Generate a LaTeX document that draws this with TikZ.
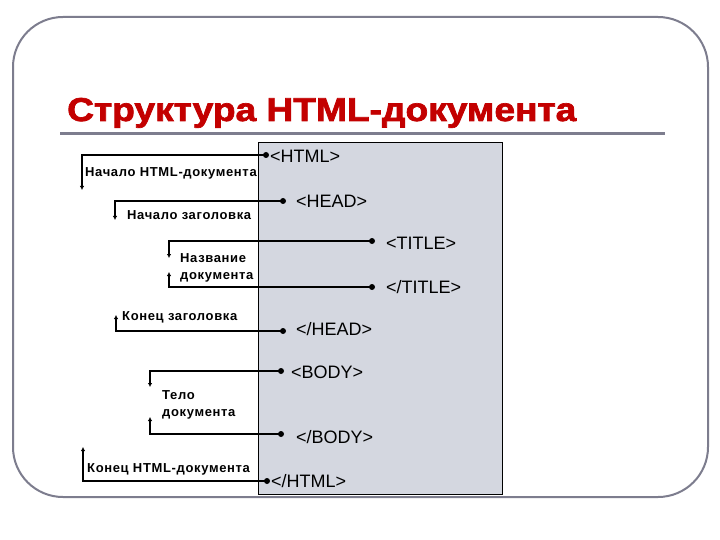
\documentclass[tikz,border=0pt]{standalone}
\usepackage{fontspec}
\setmainfont{Liberation Sans}
\usetikzlibrary{arrows.meta}
\definecolor{titlered}{RGB}{195,0,0}
\definecolor{framegray}{RGB}{125,125,142}
\definecolor{boxfill}{RGB}{212,215,224}
\begin{document}
\begin{tikzpicture}[x=1pt,y=-1pt,
 tag/.style={anchor=west,inner sep=0pt,font=\fontsize{18}{20}\selectfont},
 lbl/.style={anchor=west,inner sep=0pt,font=\bfseries\fontsize{13}{17}\selectfont\addfontfeature{LetterSpace=5},align=left},
 dot/.style={circle,fill=black,inner sep=0pt,minimum size=6pt},
 conn/.style={line width=1.5pt,-{Latex[length=4pt,width=4.5pt]}}
]
\useasboundingbox (0,0) rectangle (720,540);
\fill[white] (0,0) rectangle (720,540);
\draw[framegray,line width=2pt,rounded corners=50pt] (13,17) rectangle (708,497);
\node[anchor=base west,text=titlered,font=\bfseries\fontsize{33}{40}\selectfont\addfontfeature{FakeBold=2},inner sep=0pt,xscale=1.125] (title) at (67,121) {Структура HTML-документа};
\draw[framegray,line width=3pt] (60,134) -- (665,134);
\node[draw,fill=boxfill,line width=0.8pt,minimum width=244pt,minimum height=352pt,anchor=north west,inner sep=0pt] (docbox) at (258,142) {};
% dots and tags
\node[dot] (d1) at (266,155) {}; \node[tag] (t1) at (270,156) {<HTML>};
\node[dot] (d2) at (283,201) {}; \node[tag] (t2) at (296,201) {<HEAD>};
\node[dot] (d3) at (372,241) {}; \node[tag] (t3) at (386,243) {<TITLE>};
\node[dot] (d4) at (372,287) {}; \node[tag] (t4) at (386,287) {</TITLE>};
\node[dot] (d5) at (283,331) {}; \node[tag] (t5) at (296,329) {</HEAD>};
\node[dot] (d6) at (281,371) {}; \node[tag] (t6) at (291,372) {<BODY>};
\node[dot] (d7) at (281,434) {}; \node[tag] (t7) at (296,437) {</BODY>};
\node[dot] (d8) at (267,481) {}; \node[tag] (t8) at (271,481) {</HTML>};
% connector ends
\coordinate (e1) at (82,190);
\coordinate (e2) at (115,220);
\coordinate (e3) at (169,258);
\coordinate (e4) at (169,272);
\coordinate (e5) at (116,315);
\coordinate (e6) at (150,387);
\coordinate (e7) at (150,417);
\coordinate (e8) at (83,447);
\draw[conn] (d1.center) -| (e1);
\draw[conn] (d2.center) -| (e2);
\draw[conn] (d3.center) -| (e3);
\draw[conn] (d4.center) -| (e4);
\draw[conn] (d5.center) -| (e5);
\draw[conn] (d6.center) -| (e6);
\draw[conn] (d7.center) -| (e7);
\draw[conn] (d8.center) -| (e8);
% labels
\node[lbl] (l1) at (85,173) {Начало HTML-документа};
\node[lbl] (l2) at (127,215) {Начало заголовка};
\node[lbl] (l3) at (180,268) {Название\\документа};
\node[lbl] (l4) at (122,317) {Конец заголовка};
\node[lbl] (l5) at (162,405) {Тело\\документа};
\node[lbl] (l6) at (87,469) {Конец HTML-документа};
\end{tikzpicture}
\end{document}
